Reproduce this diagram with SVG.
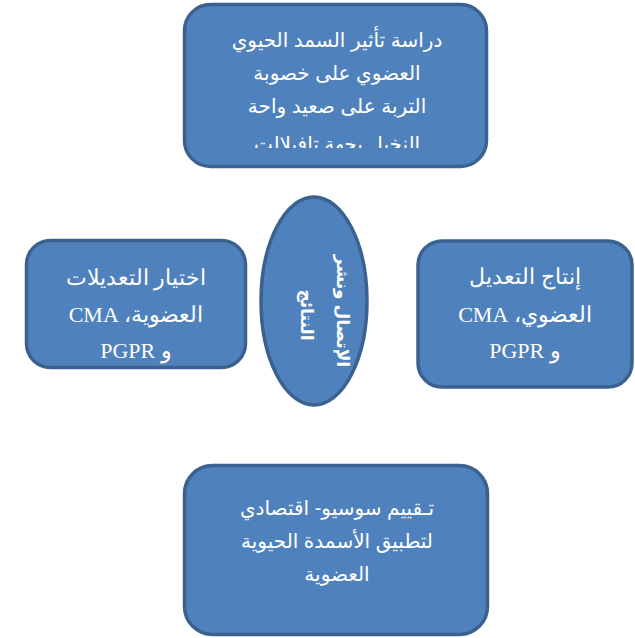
<svg xmlns="http://www.w3.org/2000/svg" width="635" height="638" viewBox="0 0 635 638">
<style>
.box{fill:#4f81bd;stroke:#3b6190;stroke-width:3.5}
.sans{font-family:"Liberation Sans","DejaVu Sans",Arial,sans-serif;font-size:20px;fill:#fff}
.serif{font-family:"Liberation Serif","DejaVu Serif","Times New Roman",serif;font-size:22px;fill:#fff}
.bold{font-family:"Liberation Sans","DejaVu Sans",Arial,sans-serif;font-size:17px;font-weight:bold;fill:#fff}
</style>
<defs>
<clipPath id="topclip"><rect x="185" y="5" width="300" height="143"/></clipPath>
</defs>
<rect width="635" height="638" fill="#fff"/>
<g id="connectors"></g>
<g id="top">
<rect class="box" x="184.5" y="4.5" width="302" height="162" rx="26"/>
<g clip-path="url(#topclip)">
<text class="sans" direction="rtl" text-anchor="middle" x="337" y="47">دراسة تأثير السمد الحيوي</text>
<text class="sans" direction="rtl" text-anchor="middle" x="337" y="80">العضوي على خصوبة</text>
<text class="sans" direction="rtl" text-anchor="middle" x="337" y="113">التربة على صعيد واحة</text>
<text class="sans" direction="rtl" text-anchor="middle" x="337" y="151">النخيل بجهة تافيلالت</text>
</g>
</g>
<g id="left">
<rect class="box" x="26.5" y="240.5" width="219" height="127" rx="24"/>
<text class="serif" direction="rtl" text-anchor="middle" x="136" y="285">اختيار التعديلات</text>
<text class="serif" direction="rtl" text-anchor="middle" x="136" y="322">العضوية، CMA</text>
<text class="serif" direction="rtl" text-anchor="middle" x="136" y="358">و PGPR</text>
</g>
<g id="right">
<rect class="box" x="418" y="241" width="214" height="146" rx="24"/>
<text class="serif" direction="rtl" text-anchor="middle" x="525" y="284">إنتاج  التعديل</text>
<text class="serif" direction="rtl" text-anchor="middle" x="525" y="322">العضوي، CMA</text>
<text class="serif" direction="rtl" text-anchor="middle" x="525" y="358">و  PGPR</text>
</g>
<g id="center">
<ellipse class="box" cx="314" cy="301" rx="53" ry="104"/>
<text class="bold" direction="rtl" text-anchor="middle" transform="translate(337,311) rotate(90)">الإتصال ونشر</text>
<text class="bold" direction="rtl" text-anchor="middle" transform="translate(301,315) rotate(90)">النتائج</text>
</g>
<g id="bottom">
<rect class="box" x="184.5" y="465.5" width="303" height="169" rx="28"/>
<text class="sans" direction="rtl" text-anchor="middle" x="337" y="515">تـقييم سوسيو- اقتصادي</text>
<text class="sans" direction="rtl" text-anchor="middle" x="337" y="548">لتطبيق الأسمدة الحيوية</text>
<text class="sans" direction="rtl" text-anchor="middle" x="337" y="581">العضوية</text>
</g>
</svg>
